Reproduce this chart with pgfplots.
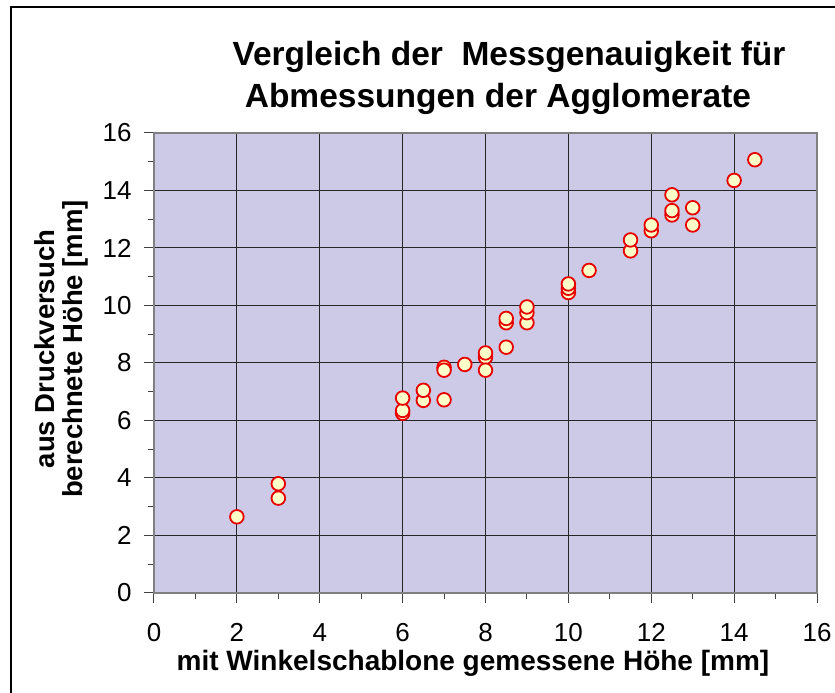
\documentclass[border=0pt]{standalone}
\usepackage{pgfplots}
\pgfplotsset{compat=1.18}
\usepackage{fontspec}
\setmainfont{Liberation Sans}
\definecolor{bgl}{RGB}{204,202,230}
\definecolor{mfill}{RGB}{255,255,200}
\definecolor{mred}{RGB}{232,0,0}
\begin{document}
\begin{tikzpicture}[x=1pt,y=1pt]
\useasboundingbox (-154,-100) rectangle (681,593);
\draw[line width=1.5pt,black] (-143,-110) -- (-143,586) -- (690,586);
\begin{axis}[
  scale only axis,
  width=663pt, height=460pt,
  at={(0,0)}, anchor=south west,
  xmin=0, xmax=16, ymin=0, ymax=16,
  xtick={0,2,...,16}, ytick={0,2,...,16},
  minor x tick num=1, minor y tick num=1,
  tick align=outside,
  major tick length=10pt, minor tick length=6pt,
  xtick pos=bottom, ytick pos=left,
  grid=major,
  major grid style={black!85, line width=1pt},
  every tick/.style={black!75, line width=1pt},
  axis line style={black!50, line width=1.6pt},
  axis background/.style={fill=bgl},
  /pgf/number format/assume math mode=true,
  tick label style={font=\fontsize{26}{29}\selectfont},
  xticklabel style={yshift=-17pt},
  yticklabel style={xshift=-9pt},
]
\addplot[only marks, mark=*, mark size=6.8pt,
  mark options={fill=mfill, draw=mred, line width=1.8pt}]
coordinates {
(2,2.65) (3,3.8) (3,3.3)
(6,6.25) (6,6.35) (6,6.78)
(6.5,6.7) (6.5,7.05) (7,6.72) (7,7.85) (7,7.75)
(7.5,7.95) (8,8.2) (8,8.35) (8,7.75)
(8.5,8.55) (8.5,9.4) (8.5,9.55)
(9,9.4) (9,9.75) (9,9.95)
(10,10.45) (10,10.6) (10,10.75) (10.5,11.22)
(11.5,11.9) (11.5,12.28) (12,12.6) (12,12.8)
(12.5,13.15) (12.5,13.3) (12.5,13.85)
(13,12.8) (13,13.4) (14,14.35) (14.5,15.07)
};
\end{axis}
\node[font=\bfseries\fontsize{33.5}{36}\selectfont] at (355,536) {Vergleich der\ \ Messgenauigkeit für};
\node[font=\bfseries\fontsize{33.5}{36}\selectfont] at (344,494) {Abmessungen der Agglomerate};
\node[font=\bfseries\fontsize{28}{30}\selectfont] at (319,-70) {mit Winkelschablone gemessene Höhe [mm]};
\node[font=\bfseries\fontsize{27.5}{30}\selectfont, rotate=90] at (-109,244) {aus Druckversuch};
\node[font=\bfseries\fontsize{27.5}{30}\selectfont, rotate=90] at (-79,244) {berechnete Höhe [mm]};
\end{tikzpicture}
\end{document}
